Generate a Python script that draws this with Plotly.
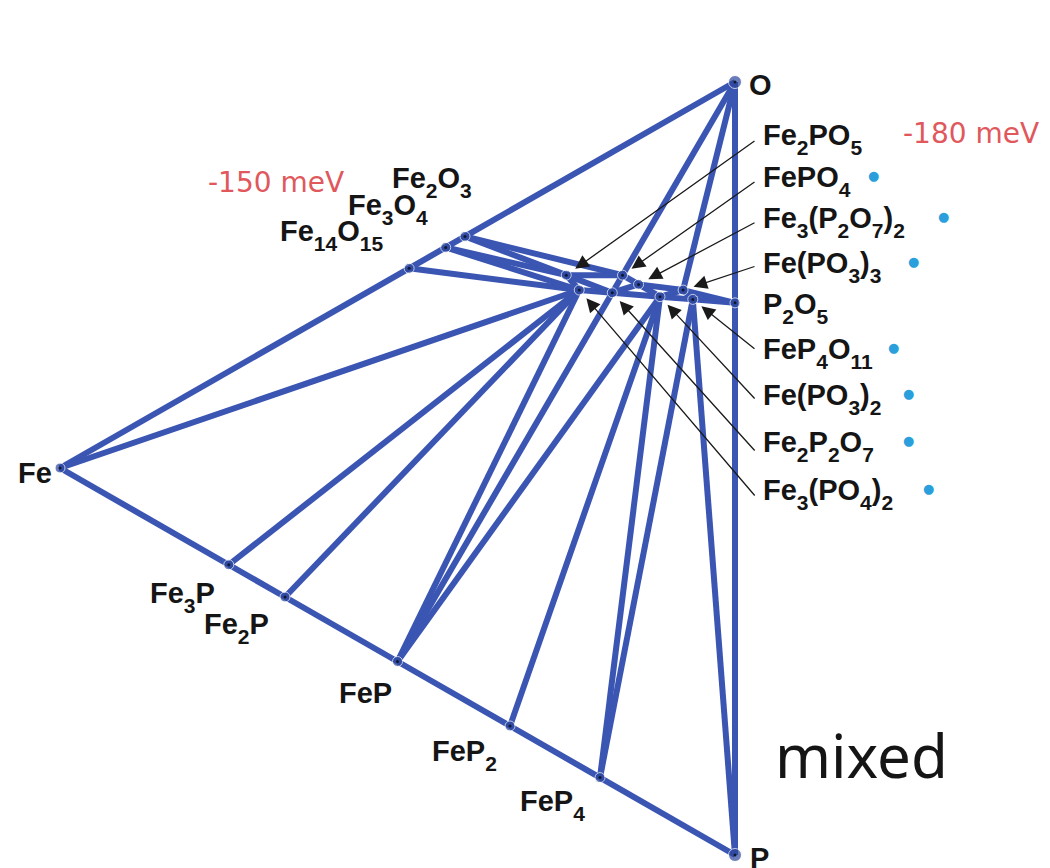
import plotly.graph_objects as go

# ---------------- data ----------------
names = ["Fe", "P", "O", "Fe14O15", "Fe3O4", "Fe2O3", "Fe3P", "Fe2P", "FeP", "FeP2",
         "FeP4", "P2O5", "Fe2PO5", "FePO4", "Fe3(P2O7)2", "Fe(PO3)3", "FeP4O11",
         "Fe(PO3)2", "Fe2P2O7", "Fe3(PO4)2"]
n_fe = [1, 0, 0, 14, 3, 2, 3, 2, 1, 1, 1, 0, 2, 1, 3, 1, 1, 1, 2, 3]
n_p = [0, 1, 0, 0, 0, 0, 1, 1, 1, 2, 4, 2, 1, 1, 4, 3, 4, 2, 2, 2]
n_o = [0, 0, 1, 15, 4, 3, 0, 0, 0, 0, 0, 5, 5, 4, 14, 9, 11, 6, 7, 8]

tie_lines = [
    ("Fe", "Fe14O15"), ("Fe14O15", "Fe3O4"), ("Fe3O4", "Fe2O3"), ("Fe2O3", "O"),
    ("O", "P2O5"), ("P2O5", "P"), ("P", "FeP4"), ("FeP4", "FeP2"), ("FeP2", "FeP"),
    ("FeP", "Fe2P"), ("Fe2P", "Fe3P"), ("Fe3P", "Fe"),
    ("Fe", "Fe3(PO4)2"), ("Fe3P", "Fe3(PO4)2"), ("Fe2P", "Fe3(PO4)2"),
    ("FeP", "Fe3(PO4)2"), ("FeP", "Fe2P2O7"), ("FeP", "Fe(PO3)2"),
    ("FeP2", "Fe(PO3)2"), ("FeP4", "Fe(PO3)2"), ("FeP4", "FeP4O11"),
    ("P", "FeP4O11"), ("FeP4O11", "P2O5"),
    ("Fe14O15", "Fe3(PO4)2"), ("Fe3O4", "Fe3(PO4)2"), ("Fe3O4", "Fe2PO5"),
    ("Fe2O3", "Fe2PO5"), ("Fe2O3", "FePO4"), ("O", "FePO4"), ("O", "Fe(PO3)3"),
    ("Fe(PO3)3", "P2O5"), ("Fe(PO3)3", "FeP4O11"),
    ("Fe3(PO4)2", "Fe2PO5"), ("Fe3(PO4)2", "Fe2P2O7"), ("Fe2PO5", "FePO4"),
    ("Fe2PO5", "Fe2P2O7"), ("FePO4", "Fe2P2O7"), ("FePO4", "Fe3(P2O7)2"),
    ("Fe2P2O7", "Fe3(P2O7)2"), ("Fe2P2O7", "Fe(PO3)2"), ("Fe3(P2O7)2", "Fe(PO3)2"),
    ("Fe3(P2O7)2", "Fe(PO3)3"), ("Fe(PO3)2", "Fe(PO3)3"), ("Fe(PO3)2", "FeP4O11"),
]

# formula labels: list of (text, is_subscript) pieces
right_labels = [
    [("Fe", 0), ("2", 1), ("PO", 0), ("5", 1)],
    [("FePO", 0), ("4", 1)],
    [("Fe", 0), ("3", 1), ("(P", 0), ("2", 1), ("O", 0), ("7", 1), (")", 0), ("2", 1)],
    [("Fe(PO", 0), ("3", 1), (")", 0), ("3", 1)],
    [("P", 0), ("2", 1), ("O", 0), ("5", 1)],
    [("FeP", 0), ("4", 1), ("O", 0), ("11", 1)],
    [("Fe(PO", 0), ("3", 1), (")", 0), ("2", 1)],
    [("Fe", 0), ("2", 1), ("P", 0), ("2", 1), ("O", 0), ("7", 1)],
    [("Fe", 0), ("3", 1), ("(PO", 0), ("4", 1), (")", 0), ("2", 1)],
]
right_compounds = ["Fe2PO5", "FePO4", "Fe3(P2O7)2", "Fe(PO3)3", "P2O5",
                   "FeP4O11", "Fe(PO3)2", "Fe2P2O7", "Fe3(PO4)2"]
right_arrow = [True, True, True, True, False, True, True, True, True]
right_marked = [False, True, True, True, False, True, True, True, True]

energy_labels = ["-150 meV", "-180 meV"]
region_label = "mixed"

# ---------------- geometry (layout) ----------------
V_FE = (60.0, 468.0)
V_P = (735.0, 855.0)
V_O = (735.0, 82.0)
OFF = 8  # page body margin


def pos(name):
    i = names.index(name)
    t = n_fe[i] + n_p[i] + n_o[i]
    a, b, c = n_fe[i] / t, n_p[i] / t, n_o[i] / t
    return (a * V_FE[0] + b * V_P[0] + c * V_O[0],
            a * V_FE[1] + b * V_P[1] + c * V_O[1])


def fmt(pieces):
    out = ""
    for s, sub in pieces:
        if sub:
            out += "<sub><sub><span style='font-size:21px'>" + s + "</span></sub></sub>"
        else:
            out += s
    return out


LINE_COL = "#3a55b2"
fig = go.Figure()

lx, ly = [], []
for s, e in tie_lines:
    p1, p2 = pos(s), pos(e)
    lx += [p1[0], p2[0], None]
    ly += [p1[1], p2[1], None]
fig.add_trace(go.Scatter(x=lx, y=ly, mode="lines",
                         line=dict(color=LINE_COL, width=6), hoverinfo="skip"))

px_ = [pos(n)[0] for n in names]
py_ = [pos(n)[1] for n in names]
sizes = [13 if n in ("O", "P") else 10 for n in names]
fig.add_trace(go.Scatter(x=px_, y=py_, mode="markers",
                         marker=dict(color="#2c469c", size=sizes), hoverinfo="skip"))
fig.add_trace(go.Scatter(x=px_, y=py_, mode="markers",
                         marker=dict(color="#101830", size=3), hoverinfo="skip"))

LBL_FONT = dict(family="Liberation Sans, Arial, sans-serif", size=29, color="#151515")


def label(text, x, y, anchor="left"):
    fig.add_annotation(x=x, y=y, text="<b>" + text + "</b>", showarrow=False,
                       xanchor=anchor, yanchor="middle", font=LBL_FONT,
                       xref="x", yref="y")


ox, oy = pos("O"); label("O", ox + 12, oy + 3)
ppx, ppy = pos("P"); label("P", ppx + 13, ppy + 3)
fx, fy = pos("Fe"); label("Fe", fx - 6, fy + 5, anchor="right")
x0, y0 = pos("Fe3P"); label(fmt([("Fe", 0), ("3", 1), ("P", 0)]), x0 - 81, y0 + 32)
x0, y0 = pos("Fe2P"); label(fmt([("Fe", 0), ("2", 1), ("P", 0)]), x0 - 83, y0 + 31)
x0, y0 = pos("FeP"); label("FeP", x0 - 61, y0 + 31)
x0, y0 = pos("FeP2"); label(fmt([("FeP", 0), ("2", 1)]), x0 - 80, y0 + 29)
x0, y0 = pos("FeP4"); label(fmt([("FeP", 0), ("4", 1)]), x0 - 82, y0 + 27)
x0, y0 = pos("Fe14O15"); label(fmt([("Fe", 0), ("14", 1), ("O", 0), ("15", 1)]), x0 - 131, y0 - 33)
x0, y0 = pos("Fe3O4"); label(fmt([("Fe", 0), ("3", 1), ("O", 0), ("4", 1)]), x0 - 100, y0 - 38)
x0, y0 = pos("Fe2O3"); label(fmt([("Fe", 0), ("2", 1), ("O", 0), ("3", 1)]), x0 - 75, y0 - 54)

# right-hand column
col_x = 761
row_y = [139, 181, 222, 267, 308, 353, 399, 446, 494]
tail_y = [140, 181, 222, 266, 0, 350, 400, 452, 497]
dot_x = [0, 873, 943, 913, 0, 893, 908, 908, 928]
for k, (pieces, comp) in enumerate(zip(right_labels, right_compounds)):
    t = "<b>" + fmt(pieces) + "</b>"
    fig.add_annotation(x=col_x, y=row_y[k], text=t, showarrow=False,
                       xanchor="left", yanchor="middle", font=LBL_FONT,
                       xref="x", yref="y")
    if right_marked[k]:
        fig.add_annotation(x=dot_x[k], y=row_y[k] - 6, text="●", showarrow=False,
                           xanchor="center", yanchor="middle",
                           font=dict(family="DejaVu Sans", size=13, color="#2a9fdc"),
                           xref="x", yref="y")
    if right_arrow[k]:
        cx, cy = pos(comp)
        tx, ty = col_x - 5, tail_y[k]
        dx, dy = tx - cx, ty - cy
        d = (dx * dx + dy * dy) ** 0.5
        hx, hy = cx + 11 * dx / d, cy + 11 * dy / d
        fig.add_annotation(x=hx, y=hy, ax=tx, ay=ty, axref="x", ayref="y",
                           xref="x", yref="y", text="", showarrow=True,
                           arrowhead=2, arrowsize=2.1, arrowwidth=1.3,
                           arrowcolor="#1a1a1a")

RED = dict(family="DejaVu Sans, sans-serif", size=28, color="#e0585c")
fig.add_annotation(x=206, y=182, text=energy_labels[0], showarrow=False,
                   xanchor="left", yanchor="middle", font=RED, xref="x", yref="y")
fig.add_annotation(x=901, y=133, text=energy_labels[1], showarrow=False,
                   xanchor="left", yanchor="middle", font=RED, xref="x", yref="y")
fig.add_annotation(x=773, y=755, text=region_label, showarrow=False,
                   xanchor="left", yanchor="middle",
                   font=dict(family="Noto Sans, Open Sans, sans-serif", size=60,
                             color="#151515"), xref="x", yref="y")

fig.update_layout(
    width=1050 - OFF, height=868 - OFF, margin=dict(l=0, r=0, t=0, b=0),
    paper_bgcolor="white", plot_bgcolor="white", showlegend=False,
    xaxis=dict(range=[OFF, 1050], visible=False, fixedrange=True),
    yaxis=dict(range=[868, OFF], visible=False, fixedrange=True),
)
fig.write_html("out.html")
